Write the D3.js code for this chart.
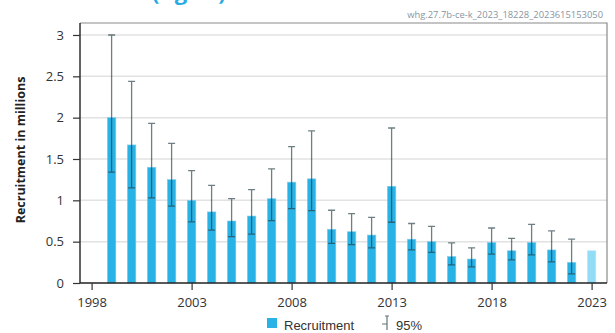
<!DOCTYPE html>
<html>
<head>
<meta charset="utf-8">
<script src="https://cdn.jsdelivr.net/npm/d3@7"></script>
<style>
  html, body { margin: 0; padding: 0; background: #fff; }
  svg { display: block; }
</style>
</head>
<body>
<svg id="chart" width="615" height="333"></svg>
<script>
// Recruitment (age 0) estimates with 95% confidence bounds, in millions
const years = [1999, 2000, 2001, 2002, 2003, 2004, 2005, 2006, 2007, 2008, 2009, 2010, 2011,
               2012, 2013, 2014, 2015, 2016, 2017, 2018, 2019, 2020, 2021, 2022, 2023];
const recruitment = [2.00, 1.67, 1.40, 1.25, 1.00, 0.86, 0.75, 0.81, 1.02, 1.22, 1.26, 0.65, 0.62,
                     0.58, 1.17, 0.53, 0.50, 0.32, 0.29, 0.49, 0.39, 0.49, 0.40, 0.25, 0.39];
const lower95 = [1.34, 1.15, 1.03, 0.93, 0.74, 0.64, 0.56, 0.59, 0.755, 0.90, 0.875, 0.48, 0.465,
                 0.425, 0.735, 0.40, 0.37, 0.22, 0.195, 0.35, 0.28, 0.34, 0.255, 0.11, null];
const upper95 = [3.00, 2.44, 1.93, 1.69, 1.36, 1.18, 1.02, 1.13, 1.38, 1.65, 1.84, 0.88, 0.84,
                 0.795, 1.875, 0.72, 0.685, 0.485, 0.425, 0.665, 0.54, 0.71, 0.63, 0.53, null];
// Final year is an assumed value, shown in a lighter shade
const assumedYear = 2023;

const yTicks = [0, 0.5, 1, 1.5, 2, 2.5, 3];
const xTicks = [1998, 2003, 2008, 2013, 2018, 2023];

const svg = d3.select("#chart");
const plot = { left: 80, right: 607, top: 23, bottom: 283 };

const x = d3.scaleLinear().domain([1997.42, 2023.77]).range([plot.left, plot.right]);
const y = d3.scaleLinear().domain([0, 3.145]).range([plot.bottom, plot.top]);

const barColor = "#29b2e6";
const barColorLight = "#93dcf6";
const errColor = "#1e3a40";
const barW = 8.5;
const capW = 7;

// title (sits mostly above the top edge of the page)
const title = svg.append("text")
  .attr("x", 14).attr("y", 0)
  .attr("font-family", "Open Sans, sans-serif")
  .attr("font-weight", "bold")
  .attr("font-size", 22)
  .attr("fill", "#29abe2");
title.append("tspan").text("Recruitment");
title.append("tspan").attr("x", 152).text("(Age 0)");

// stamp
svg.append("text")
  .attr("x", 603).attr("y", 18)
  .attr("text-anchor", "end")
  .attr("font-family", "Open Sans, sans-serif")
  .attr("font-size", 9.4)
  .attr("fill", "#8796a4")
  .text("whg.27.7b-ce-k_2023_18228_2023615153050");

// gridlines
svg.append("g").selectAll("line")
  .data(yTicks.filter(d => d > 0))
  .join("line")
  .attr("x1", plot.left).attr("x2", plot.right)
  .attr("y1", d => y(d)).attr("y2", d => y(d))
  .attr("stroke", "#e2e2e2").attr("stroke-width", 1.5);

// frame top and right
svg.append("path")
  .attr("d", `M${plot.left},${plot.top}H${plot.right}V${plot.bottom}`)
  .attr("fill", "none").attr("stroke", "#8a8a8a").attr("stroke-width", 1.2);

// bars
const rows = years.map((yr, i) => ({ yr, v: recruitment[i], lo: lower95[i], hi: upper95[i] }));
svg.append("g").selectAll("rect")
  .data(rows)
  .join("rect")
  .attr("x", d => x(d.yr) - barW / 2)
  .attr("width", barW)
  .attr("y", d => y(d.v))
  .attr("height", d => y(0) - y(d.v))
  .attr("fill", d => d.yr === assumedYear ? barColorLight : barColor)
  .attr("stroke", d => d.yr === assumedYear ? "#b9e9fb" : "#7fd0f0")
  .attr("stroke-width", 0.6);

// 95% interval whiskers
svg.append("g")
  .attr("stroke", errColor).attr("stroke-opacity", 0.65).attr("stroke-width", 1.3)
  .selectAll("path")
  .data(rows.filter(d => d.lo != null))
  .join("path")
  .attr("fill", "none")
  .attr("d", d => {
    const cx = x(d.yr), yh = y(d.hi), yl = y(d.lo);
    return `M${cx},${yh}V${yl}M${cx - capW / 2},${yh}H${cx + capW / 2}M${cx - capW / 2},${yl}H${cx + capW / 2}`;
  });

// y axis
const yAxis = d3.axisLeft(y).tickValues(yTicks).tickFormat(d3.format("~g")).tickSize(7).tickPadding(9);
const gy = svg.append("g").attr("transform", `translate(${plot.left},0)`).call(yAxis);
gy.select(".domain").attr("d", `M0,${plot.top}V${plot.bottom}`).attr("stroke", "#222").attr("stroke-width", 1.4);
gy.selectAll(".tick line").attr("stroke", "#333").attr("stroke-width", 1.2);
gy.selectAll(".tick text").attr("font-family", "Open Sans, sans-serif").attr("font-size", 13).attr("fill", "#333");

// x axis
const xAxis = d3.axisBottom(x).tickValues(xTicks).tickFormat(d3.format("d")).tickSize(7).tickPadding(8);
const gx = svg.append("g").attr("transform", `translate(0,${plot.bottom})`).call(xAxis);
gx.select(".domain").attr("d", `M${plot.left},0H${plot.right}`).attr("stroke", "#222").attr("stroke-width", 1.4);
gx.selectAll(".tick line").attr("stroke", "#333").attr("stroke-width", 1.2);
gx.selectAll(".tick text").attr("font-family", "Open Sans, sans-serif").attr("font-size", 13).attr("fill", "#333");

// y axis title
svg.append("text")
  .attr("transform", "translate(25,150) rotate(-90)")
  .attr("text-anchor", "middle")
  .attr("font-family", "Open Sans, sans-serif")
  .attr("font-weight", "bold")
  .attr("font-size", 12.5)
  .attr("fill", "#222")
  .text("Recruitment in millions");

// legend
const lg = svg.append("g");
lg.append("rect").attr("x", 267).attr("y", 318).attr("width", 10).attr("height", 10).attr("fill", barColor);
lg.append("text").attr("x", 284).attr("y", 330)
  .attr("font-family", "Liberation Sans, Arial, sans-serif").attr("font-size", 13).attr("fill", "#333")
  .text("Recruitment");
lg.append("path")
  .attr("d", "M387,316V330M385,316H389M382,324H387")
  .attr("fill", "none").attr("stroke", errColor).attr("stroke-opacity", 0.7).attr("stroke-width", 1.2);
lg.append("text").attr("x", 396).attr("y", 330)
  .attr("font-family", "Liberation Sans, Arial, sans-serif").attr("font-size", 13).attr("fill", "#333")
  .text("95%");
</script>
</body>
</html>
